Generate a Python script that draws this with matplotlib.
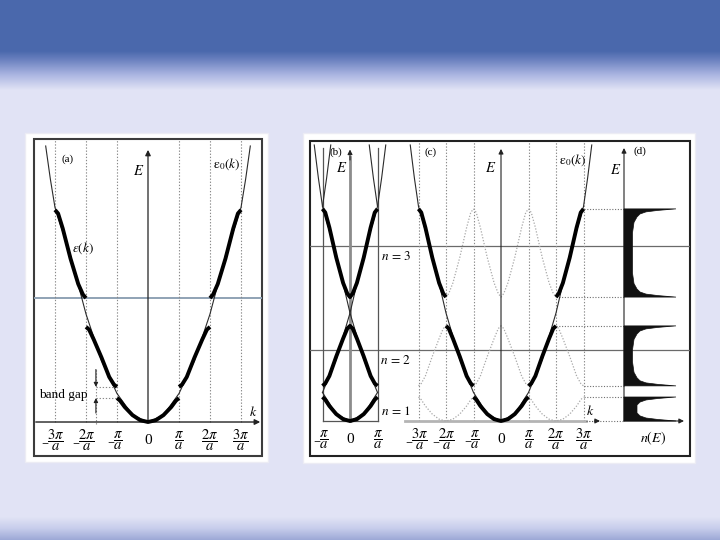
import numpy as np
import matplotlib
matplotlib.use("Agg")
import matplotlib.pyplot as plt
from matplotlib.patches import Rectangle, Polygon

plt.rcParams["mathtext.fontset"] = "stix"
plt.rcParams["font.family"] = ["Liberation Serif", "DejaVu Serif"]

# ---------------- data (k in units of pi/a, E in arbitrary units) ----------------
zone_k = [1, 2, 3]
tick_k = [-3, -2, -1, 0, 1, 2, 3]
tick_labels = [r"${}_{-}\!\dfrac{3\pi}{a}$", r"${}_{-}\!\dfrac{2\pi}{a}$", r"${}_{-}\!\dfrac{\pi}{a}$",
               "0", r"$\dfrac{\pi}{a}$", r"$\dfrac{2\pi}{a}$", r"$\dfrac{3\pi}{a}$"]
reduced_tick_k = [-1, 0, 1]
reduced_tick_labels = [r"${}_{-}\!\dfrac{\pi}{a}$", "0", r"$\dfrac{\pi}{a}$"]

free_k = [0, 0.5, 1.0, 1.5, 2.0, 2.5, 2.8, 3.0, 3.15, 3.3]
free_E = [0, 0.23, 0.95, 2.05, 3.6, 5.55, 6.5, 7.15, 8.1, 9.2]

band1_k = [0, 0.25, 0.5, 0.75, 0.9, 1.0]
band1_E = [0, 0.06, 0.23, 0.5, 0.71, 0.8]
band2_k = [1.0, 1.1, 1.25, 1.5, 1.75, 1.9, 2.0]
band2_E = [1.17, 1.25, 1.5, 2.15, 2.75, 3.08, 3.17]
band3_k = [2.0, 2.1, 2.25, 2.5, 2.75, 2.9, 3.0]
band3_E = [4.13, 4.25, 4.6, 5.45, 6.45, 6.95, 7.07]

band_edges = [(0.0, 0.8), (1.17, 3.17), (4.13, 7.07)]
level_E = [2.37, 5.83]
level_labels = [r"$n\,=\,1$", r"$n\,=\,2$", r"$n\,=\,3$"]
level_label_E = [0.33, 2.0, 5.47]

dos_dist = [0, 0.05, 0.1, 0.17, 0.27, 0.45, 0.8]
dos_width = [52, 34, 22, 16, 13, 10, 8.5]

# ---------------- helpers ----------------
W, H = 720, 540
fig = plt.figure(figsize=(7.2, 5.4), dpi=100)


def px_axes(x0, y0, x1, y1, z=2):
    ax = fig.add_axes([x0 / W, 1 - y1 / H, (x1 - x0) / W, (y1 - y0) / H], zorder=z)
    ax.set_axis_off()
    ax.patch.set_alpha(0)
    return ax


def sym(k, E):
    k = np.asarray(k, float)
    E = np.asarray(E, float)
    return np.concatenate([-k[::-1], k[1:]]), np.concatenate([E[::-1], E[1:]])


def arrow(ax, x0, y0, x1, y1, color="#222222", lw=0.9, ms=8):
    ax.annotate("", xy=(x1, y1), xytext=(x0, y0),
                arrowprops=dict(arrowstyle="-|>", color=color, lw=lw, mutation_scale=ms,
                                shrinkA=0, shrinkB=0),
                annotation_clip=False)


def tick_text(ax, ks, labs):
    for k, lab in zip(ks, labs):
        neg = k < 0
        ax.text(k - (0.07 if neg else 0), -0.62, lab, ha="center", va="center",
                fontsize=11 if lab == "0" else 10.5, clip_on=False)


THICK = dict(color="black", lw=2.8, solid_capstyle="butt", solid_joinstyle="round", zorder=5)
THIN = dict(color="#2a2a2a", lw=0.8, zorder=4)
VDOT = dict(color="#8a8a8a", lw=0.8, ls=(0, (1.2, 1.6)), zorder=2)
REPL = dict(color="#a8a8a8", lw=0.9, ls=(0, (1.0, 1.4)), zorder=3)

fk, fE = sym(free_k, free_E)
q1, e1 = sym(band1_k, band1_E)
q2, e2 = sym((2 - np.array(band2_k))[::-1], np.array(band2_E)[::-1])
q3, e3 = sym(np.array(band3_k) - 2, band3_E)
b2k, b2E = np.array(band2_k), np.array(band2_E)
b3k, b3E = np.array(band3_k), np.array(band3_E)

# ---------------- background ----------------
bg = fig.add_axes([0, 0, 1, 1], zorder=0)
bg.set_axis_off()
rows = np.arange(H) + 0.5
sy = [0, 51, 60, 75, 90, 517, 528, 540]
sc = np.array([[74, 104, 172], [74, 104, 172], [108, 130, 192], [172, 182, 226],
               [225, 227, 245], [225, 227, 245], [200, 206, 236], [156, 168, 214]])
img = np.stack([np.interp(rows, sy, sc[:, i]) for i in range(3)], axis=-1) / 255.0
bg.imshow(img.reshape(H, 1, 3), aspect="auto", extent=(0, W, H, 0))
bg.set_xlim(0, W)
bg.set_ylim(H, 0)
bg.add_patch(Rectangle((25, 133), 243, 329, fc="white", ec="#ececf4", lw=1))
bg.add_patch(Rectangle((303, 133), 392, 330, fc="white", ec="#ececf4", lw=1))
bg.add_patch(Rectangle((34, 139), 228, 317, fill=False, ec="#3c3c3c", lw=1.5))
bg.add_patch(Rectangle((310, 141), 380, 315, fill=False, ec="#222222", lw=1.5))

# ---------------- panel (a): extended zone ----------------
ax = px_axes(34, 139, 262, 456)
ax.set_xlim(-3.677, 3.677)
ax.set_ylim(-1.133, 9.433)
for k in zone_k:
    for s in (-1, 1):
        ax.plot([s * k, s * k], [0, 9.43], **VDOT)
ax.axhline(band_edges[2][0], color="#8fa2b4", lw=1.4, zorder=1)
ax.plot(fk, fE, **THIN)
ax.plot(q1, e1, **THICK)
ax.plot(b2k, b2E, **THICK)
ax.plot(-b2k, b2E, **THICK)
ax.plot(b3k, b3E, **THICK)
ax.plot(-b3k, b3E, **THICK)
arrow(ax, -3.62, 0, 3.62, 0, lw=1.0)
arrow(ax, 0, 0, 0, 9.07, lw=0.9)
tick_text(ax, tick_k, tick_labels)
# band gap annotation
gap_lo, gap_hi = band1_E[-1], band2_E[0]
ax.plot([-1.68, -1.68], [-0.05, 1.8], **VDOT)
ax.plot([-1.68, -1.0], [gap_lo, gap_lo], **VDOT)
ax.plot([-1.68, -1.0], [gap_hi, gap_hi], **VDOT)
arrow(ax, -1.68, 1.75, -1.68, gap_hi, lw=0.8, ms=6)
arrow(ax, -1.68, 0.3, -1.68, gap_lo, lw=0.8, ms=6)
ax.text(-3.52, 0.9, "band gap", fontsize=9.5, ha="left", va="center")
ax.text(-2.6, 8.75, "(a)", fontsize=8, ha="center", va="center")
ax.text(-0.3, 8.35, r"$E$", fontsize=10.5, ha="center", va="center")
ax.text(2.55, 8.6, r"$\mathrm{\varepsilon}_0(k)$", fontsize=9.5, ha="center", va="center")
ax.text(-2.1, 5.8, r"$\varepsilon(k)$", fontsize=9.5, ha="center", va="center")
ax.text(3.38, 0.33, r"$k$", fontsize=10, ha="center", va="center")

# ---------------- right frame: level lines ----------------
axr = px_axes(310, 141, 690, 456, z=1)
axr.set_xlim(0, 1)
axr.set_ylim(-1.167, 9.333)
for e in level_E:
    axr.axhline(e, color="#6a6a6a", lw=0.9)
for e, lab in zip(level_label_E, level_labels):
    axr.text(0.226, e, lab, fontsize=9.5, ha="center", va="center")

# ---------------- panel (b): reduced zone ----------------
axb = px_axes(310, 141, 395, 456)
axb.set_xlim(-1.4545, 1.636)
axb.set_ylim(-1.167, 9.333)
axb.plot([-1, -1], [0, 9.1], color="#555555", lw=0.9, zorder=2)
axb.plot([1, 1], [0, 9.1], color="#555555", lw=0.9, zorder=2)
axb.plot([-1, 1], [0, 0], color="#555555", lw=0.9, zorder=2)
axb.plot([0, 0], [0, 8.8], color="#8c8c8c", lw=2.0, zorder=2)
arrow(axb, 0, 8.7, 0, 9.05, lw=0.8, ms=7)
for shift in (-4, -2, 0, 2, 4):
    x = fk + shift
    m = ((x >= -1) & (x <= 1)) | (fE >= 7.0)
    m &= (x >= -1.35) & (x <= 1.35)
    axb.plot(np.where(m, x, np.nan), fE, **THIN)
axb.plot(q1, e1, **THICK)
axb.plot(q2, e2, **THICK)
axb.plot(q3, e3, **THICK)
tick_text(axb, reduced_tick_k, reduced_tick_labels)
axb.text(-0.5, 8.97, "(b)", fontsize=8, ha="center", va="center")
axb.text(-0.3, 8.43, r"$E$", fontsize=10.5, ha="center", va="center")

# ---------------- panel (c): repeated zone ----------------
axc = px_axes(400, 141, 600, 456)
axc.set_xlim(-3.673, 3.6)
axc.set_ylim(-1.167, 9.333)
for k in zone_k:
    for s in (-1, 1):
        axc.plot([s * k, s * k], [0, 9.33], **VDOT)
for c in (-2, 0, 2):
    axc.plot(q1 + c, e1, **REPL)
    axc.plot(q2 + c, e2, **REPL)
    axc.plot(q3 + c, e3, **REPL)
axc.plot(fk, fE, **THIN)
axc.plot(q1, e1, **THICK)
axc.plot(b2k, b2E, **THICK)
axc.plot(-b2k, b2E, **THICK)
axc.plot(b3k, b3E, **THICK)
axc.plot(-b3k, b3E, **THICK)
axc.plot([-3.5, 3.1], [0, 0], color="#b4b4b4", lw=2.0, zorder=2)
axc.plot([3.1, 3.45], [0, 0], color="#555555", lw=0.8, ls=(0, (1, 1.5)), zorder=2)
arrow(axc, 3.4, 0, 3.6, 0, lw=0.8, ms=7)
arrow(axc, 0, 0, 0, 9.07, lw=0.8, ms=7)
tick_text(axc, tick_k, tick_labels)
axc.text(-2.55, 8.97, "(c)", fontsize=8, ha="center", va="center")
axc.text(-0.36, 8.43, r"$E$", fontsize=10.5, ha="center", va="center")
axc.text(2.6, 8.7, r"$\mathrm{\varepsilon}_0(k)$", fontsize=9.5, ha="center", va="center")
axc.text(3.25, 0.33, r"$k$", fontsize=10, ha="center", va="center")
# dotted connectors from band edges to the DOS axis
conn_start = [3.5, 3.0, 3.0, 2.0, 2.0, 3.0]
edges_flat = [e for pair in band_edges for e in pair]
for e, ks in zip(edges_flat, conn_start):
    axc.plot([ks, 4.47], [e, e], color="#707070", lw=0.8, ls=(0, (1, 1.5)), clip_on=False,
             zorder=2)

# ---------------- panel (d): density of states ----------------
axd = px_axes(600, 141, 690, 456)
axd.set_xlim(-24, 66)
axd.set_ylim(-1.167, 9.333)
for lo, hi in band_edges:
    half = (hi - lo) / 2
    prof = [(d, w) for d, w in zip(dos_dist, dos_width) if d < half]
    pts = [(0, lo)]
    pts += [(w, lo + d) for d, w in prof]
    pts += [(w, hi - d) for d, w in prof[::-1]]
    pts += [(0, hi)]
    axd.add_patch(Polygon(pts, closed=True, fc="#111111", ec="#111111", lw=0.5, zorder=4))
arrow(axd, 0, 0, 0, 9.1, lw=0.8, ms=7)
arrow(axd, 0, 0, 60, 0, lw=0.8, ms=7)
axd.text(16, 9.0, "(d)", fontsize=8, ha="center", va="center")
axd.text(-8, 8.37, r"$E$", fontsize=10.5, ha="center", va="center")
axd.text(29, -0.57, r"$n(E)$", fontsize=10, ha="center", va="center")

fig.savefig("out.png", dpi=100)
